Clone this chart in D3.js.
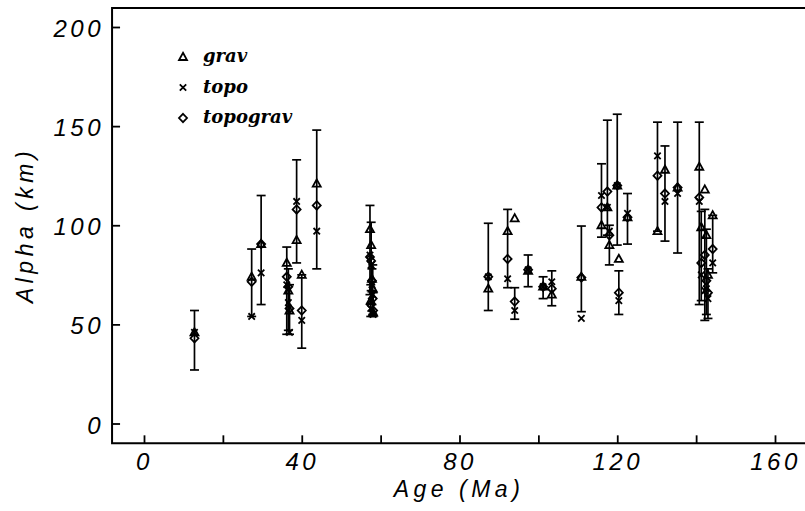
<!DOCTYPE html>
<html>
<head>
<meta charset="utf-8">
<script src="https://cdn.jsdelivr.net/npm/d3@7"></script>
<style>
  body { margin: 0; background: #fff; }
  svg { display: block; }
  .tick text { font-family: "Liberation Sans", Arial, sans-serif; font-style: italic; font-size: 24px; letter-spacing: 3.5px; fill: #000; }
  .tick line { stroke: #000; stroke-width: 1.8; }
  .title { font-family: "Liberation Sans", Arial, sans-serif; font-style: italic; font-size: 23px; letter-spacing: 4.5px; }
  .legend text { font-family: "DejaVu Serif", serif; font-style: italic; font-weight: bold; font-size: 18px; }
</style>
</head>
<body>
<svg id="chart" width="805" height="511"></svg>
<script>
// site ages (Ma) and alpha estimates (km)
const ages     = [12.8, 27.3, 29.7, 36.2, 36.6, 36.9, 38.7, 40.0, 43.8, 57.3, 57.6, 57.8, 58.0, 57.5, 58.1,
                  87.3, 92.2, 94.0, 97.4, 101.2, 103.4, 110.9, 116.0, 117.5, 118.0, 120.0, 120.4, 122.6,
                  130.2, 132.1, 135.3, 140.8, 141.3, 142.2, 142.6, 143.0, 144.2];
const grav     = [46, 74, 90.5, 81, 67, 57, 92.5, 75, 121, 98, 90, 73, 68, 62, 56,
                  68, 97, 103.5, 77, 69, 65, 74, 100, 109, 90, 120, 83, 104,
                  97, 128, 119, 129.5, 99, 118, 95, 75, 105];
const topo     = [46, 54, 76, 70, 61, 46, 112, 52, 97, 85, 80, 70, 65, 58, 55,
                  74, 73, 57, 77.5, 69, 71.5, 53, 115, 109, 97, 120, 62, 106,
                  135, 112, 116, 112, 75, 67, 68, 63, 81];
const topograv = [43, 71.5, 90.5, 74, 69, 58, 108, 57, 110, 84, 82, 72, 63, 60, 57,
                  74, 83, 61.5, 77.5, 69, 68, 73.6, 109, 117, 95, 120, 66, 104,
                  125, 116, 119, 114, 81, 85, 72, 66, 88];
const errLow   = [27, 54, 60, 45, 47, 45, 81, 38, 78, 65, 67, 60, 55, 54, 54,
                  57, 68.5, 52.6, 69, 63, 59.4, 56.4, 94, 95, 80, 90, 55, 90.5,
                  97, 92, 86, 60, 62, 52, 55, 53, 76];
const errHigh  = [57, 88, 115, 89, 78, 70, 133, 75, 148, 110, 101.5, 78, 80, 70, 66,
                  101, 108, 68.5, 85, 74, 77, 99.6, 131, 153, 100, 156, 77, 116,
                  152, 140, 152, 152, 107, 108, 98, 78, 105];

const xTicks = [0, 20, 40, 60, 80, 100, 120, 140, 160];
const yTicks = [0, 50, 100, 150, 200];
const seriesNames = ["grav", "topo", "topograv"];

const svg = d3.select("#chart");

const x = d3.scaleLinear().domain([0, 160]).range([144, 775]);
const y = d3.scaleLinear().domain([0, 200]).range([423.5, 27]);

const xMin = -8.1, yMin = -10, yMax = 209.6;
const sites = ages.map((a, i) => ({
  age: a, grav: grav[i], topo: topo[i], topograv: topograv[i], lo: errLow[i], hi: errHigh[i]
}));

// axes (ticks point inward)
const xAxis = svg.append("g")
  .attr("transform", `translate(0,${y(yMin)})`)
  .call(d3.axisBottom(x).tickValues(xTicks).tickSizeInner(-8).tickSizeOuter(0).tickPadding(10)
    .tickFormat(d => d % 40 === 0 ? d : ""));
xAxis.select(".domain").remove();
xAxis.selectAll(".tick text").attr("dx", "0px");

const yAxis = svg.append("g")
  .attr("transform", `translate(${x(xMin)},0)`)
  .call(d3.axisLeft(y).tickValues(yTicks).tickSizeInner(-8).tickSizeOuter(0).tickPadding(8));
yAxis.select(".domain").remove();
yAxis.selectAll(".tick text").attr("dy", "0.4em");

// frame: left, bottom, top
const frame = svg.append("g").attr("stroke", "#000").attr("stroke-width", 2).attr("fill", "none");
frame.append("path")
  .attr("d", `M805,${y(yMax)}H${x(xMin)}V${y(yMin)}H805`);

// error bars
const bars = svg.append("g").attr("stroke", "#000").attr("stroke-width", 1.7);
sites.forEach(d => {
  const cx = x(d.age);
  bars.append("line").attr("x1", cx).attr("x2", cx).attr("y1", y(d.lo)).attr("y2", y(d.hi));
  bars.append("line").attr("x1", cx - 4.5).attr("x2", cx + 4.5).attr("y1", y(d.lo)).attr("y2", y(d.lo));
  bars.append("line").attr("x1", cx - 4.5).attr("x2", cx + 4.5).attr("y1", y(d.hi)).attr("y2", y(d.hi));
});

// marker shapes
function drawMarker(g, type, cx, cy) {
  if (type === "grav") {
    g.append("path").attr("d", `M${cx},${cy - 4.2}L${cx + 4},${cy + 3}L${cx - 4},${cy + 3}Z`)
      .attr("fill", "none").attr("stroke", "#000").attr("stroke-width", 1.8);
  } else if (type === "topo") {
    g.append("path").attr("d", `M${cx - 3.2},${cy - 3.2}L${cx + 3.2},${cy + 3.2}M${cx + 3.2},${cy - 3.2}L${cx - 3.2},${cy + 3.2}`)
      .attr("stroke", "#000").attr("stroke-width", 1.8);
  } else {
    g.append("path").attr("d", `M${cx},${cy - 4.2}L${cx + 4},${cy}L${cx},${cy + 4.2}L${cx - 4},${cy}Z`)
      .attr("fill", "none").attr("stroke", "#000").attr("stroke-width", 1.8);
  }
}

const marks = svg.append("g");
seriesNames.forEach(s => {
  sites.forEach(d => drawMarker(marks, s, x(d.age), y(d[s])));
});

// legend
const legend = svg.append("g").attr("class", "legend");
seriesNames.forEach((s, i) => {
  const ly = 57 + i * 30.5;
  drawMarker(legend, s, 183, ly);
  legend.append("text").attr("x", 203).attr("y", ly + 5).text(s);
});

// axis titles
svg.append("text").attr("class", "title")
  .attr("x", 459).attr("y", 497).attr("text-anchor", "middle").text("Age (Ma)");
svg.append("text").attr("class", "title")
  .attr("transform", "translate(33,225) rotate(-90)")
  .attr("text-anchor", "middle").text("Alpha (km)");
</script>
</body>
</html>
